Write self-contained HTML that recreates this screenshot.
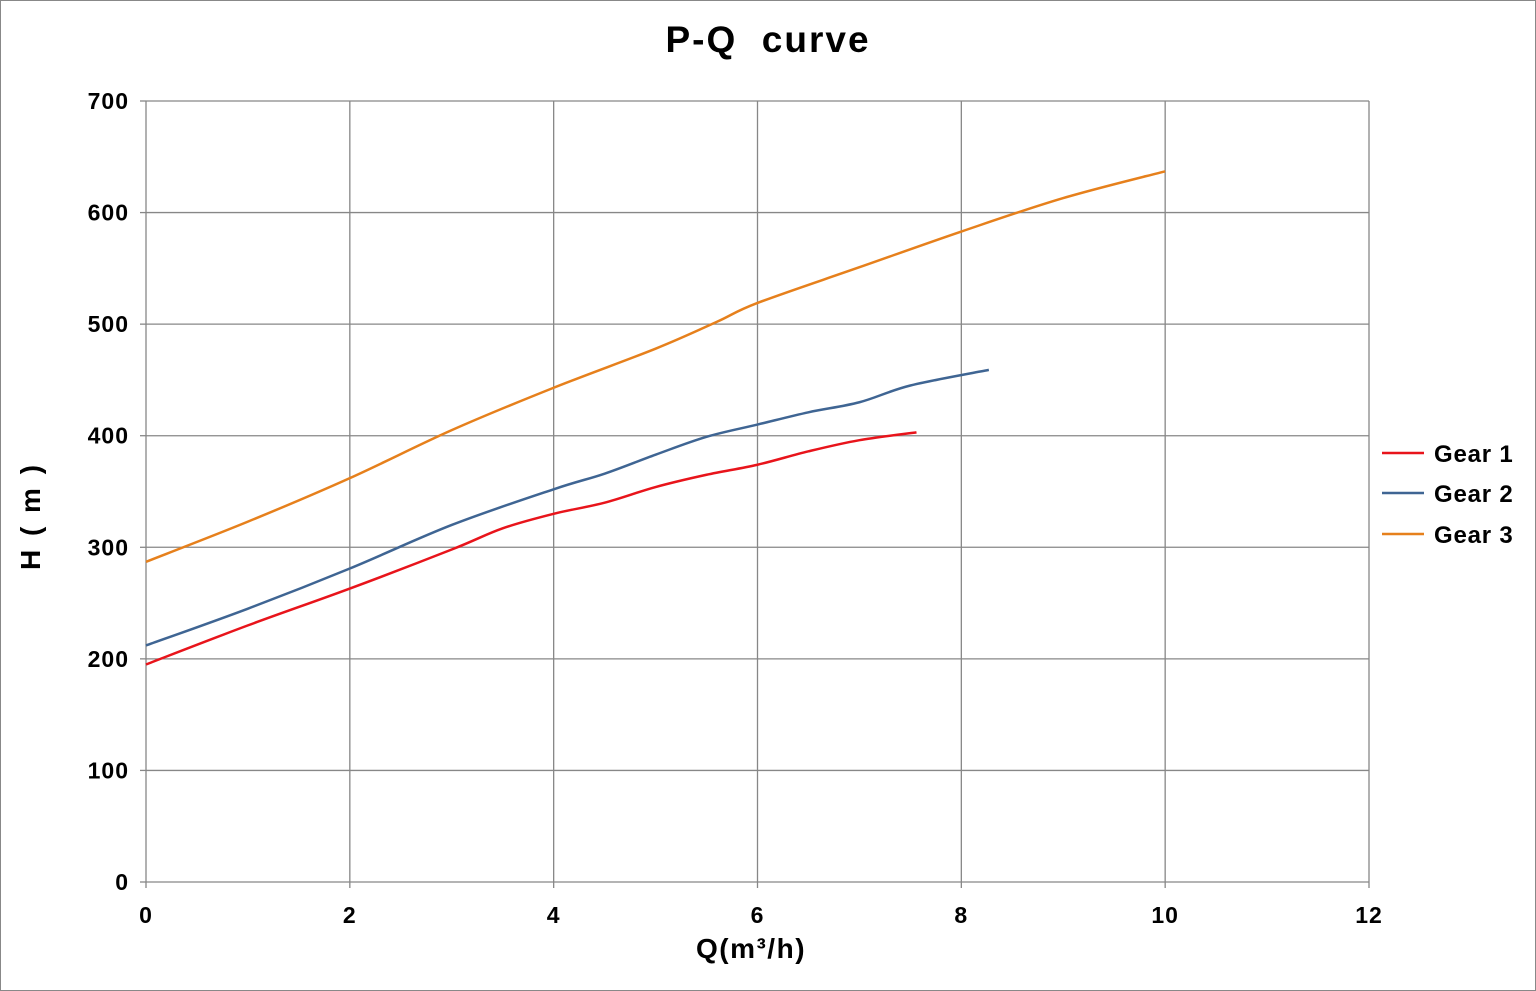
<!DOCTYPE html>
<html><head><meta charset="utf-8"><style>
html,body{margin:0;padding:0;background:#fff;}
svg{display:block;font-family:"Liberation Sans",sans-serif;}
</style></head><body>
<svg id="s" width="1536" height="991" xmlns="http://www.w3.org/2000/svg">
<rect x="0.5" y="0.5" width="1535" height="990" fill="#fff" stroke="#888" stroke-width="1"/>
<text x="768" y="52" text-anchor="middle" font-size="37" font-weight="bold" letter-spacing="2">P-Q&#160; curve</text>
<g id="grid" stroke="#878787" stroke-width="1.3"></g>
<g id="lab" font-size="23" font-weight="bold" fill="#000" letter-spacing="1"></g>
<text x="751" y="958" text-anchor="middle" font-size="28" font-weight="bold" letter-spacing="1.5">Q(m³/h)</text>
<text transform="translate(40,516) rotate(-90)" text-anchor="middle" font-size="28" font-weight="bold" letter-spacing="3">H ( m )</text>
<g id="series" fill="none" stroke-width="2.5"></g>
<g font-size="24" font-weight="bold" letter-spacing="0.8">
<line x1="1382" y1="453" x2="1424" y2="453" stroke="#e8141b" stroke-width="2.5"/><text x="1434" y="462">Gear 1</text>
<line x1="1382" y1="493" x2="1424" y2="493" stroke="#3f6593" stroke-width="2.5"/><text x="1434" y="502">Gear 2</text>
<line x1="1382" y1="534" x2="1424" y2="534" stroke="#e6801c" stroke-width="2.5"/><text x="1434" y="543">Gear 3</text>
</g>
</svg>
<script>
var ns="http://www.w3.org/2000/svg";
function X(v){return 146+v*(1369-146)/12;}
function Y(v){return 882-v*(882-101)/700;}
function el(t,a,p){var e=document.createElementNS(ns,t);for(var k in a)e.setAttribute(k,a[k]);p.appendChild(e);return e;}
var g=document.getElementById('grid'),l=document.getElementById('lab');
for(var i=0;i<=7;i++){var y=Y(i*100);el('line',{x1:X(0),x2:X(12),y1:y,y2:y},g);
 el('line',{x1:X(0)-6,x2:X(0),y1:y,y2:y},g);
 var t=el('text',{x:129,y:y+8,'text-anchor':'end'},l);t.textContent=i*100;}
for(var i=0;i<=6;i++){var x=X(i*2);el('line',{x1:x,x2:x,y1:Y(0),y2:Y(700)},g);
 el('line',{x1:x,x2:x,y1:Y(0),y2:Y(0)+6},g);
 var t=el('text',{x:x,y:923,'text-anchor':'middle'},l);t.textContent=i*2;}
var S=[["#e8141b",[[0,195],[1,230],[2,263],[3,298],[3.5,317],[4,330],[4.5,340],[5,354],[5.5,365],[6,374],[6.5,386],[7,396],[7.56,403]]],
["#3f6593",[[0,212],[1,245],[2,281],[3,320],[4,352],[4.5,366],[5,383],[5.5,399],[6,410],[6.5,421],[7,430],[7.5,445],[8.27,459]]],
["#e6801c",[[0,287],[1,323],[2,362],[3,405],[4,443],[5,478],[5.6,502],[6,519],[7,551],[8,583],[9,613],[10,637]]]];
var sg=document.getElementById('series');
S.forEach(function(s){var p=s[1].map(function(q){return [X(q[0]),Y(q[1])];});
 var d="M"+p[0][0]+","+p[0][1];
 for(var i=0;i<p.length-1;i++){var p0=p[i-1]||p[i],p1=p[i],p2=p[i+1],p3=p[i+2]||p2;
  d+=" C"+(p1[0]+(p2[0]-p0[0])/6)+","+(p1[1]+(p2[1]-p0[1])/6)+" "+(p2[0]-(p3[0]-p1[0])/6)+","+(p2[1]-(p3[1]-p1[1])/6)+" "+p2[0]+","+p2[1];}
 el('path',{d:d,stroke:s[0]},sg);});
</script>
</body></html>
